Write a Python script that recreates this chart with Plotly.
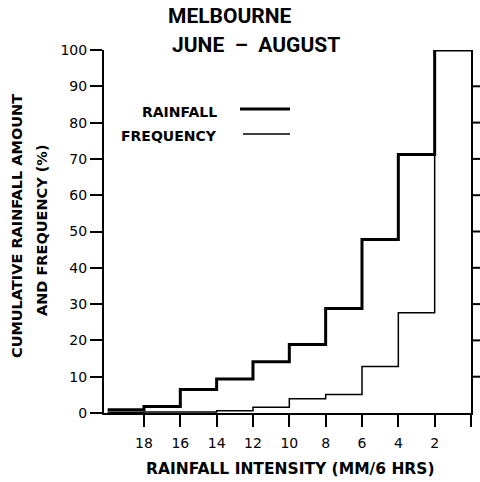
import plotly.graph_objects as go

# Bin edges of rainfall intensity (mm / 6 hrs), from high to low
intensity_edges = [20, 18, 16, 14, 12, 10, 8, 6, 4, 2, 0]
# Cumulative rainfall amount (%) for each bin (20-18, 18-16, ..., 2-0)
rainfall_pct = [0.9, 1.8, 6.5, 9.4, 14.1, 18.9, 28.8, 47.8, 71.2, 100]
# Cumulative frequency (%) for each bin
frequency_pct = [0.2, 0.3, 0.3, 0.6, 1.6, 3.9, 5.1, 12.8, 27.6, 100]

x_tick_vals = [18, 16, 14, 12, 10, 8, 6, 4, 2, 0]
x_tick_text = ["18", "16", "14", "12", "10", "8", "6", "4", "2", ""]
y_tick_vals = [0, 10, 20, 30, 40, 50, 60, 70, 80, 90, 100]

FONT = "DejaVu Sans"

fig = go.Figure()
fig.add_trace(go.Scatter(
    x=intensity_edges, y=frequency_pct + [frequency_pct[-1]],
    mode="lines", line=dict(color="black", width=1.5, shape="hv"),
    name="FREQUENCY", showlegend=False, hoverinfo="skip"))
fig.add_trace(go.Scatter(
    x=intensity_edges, y=rainfall_pct + [rainfall_pct[-1]],
    mode="lines", line=dict(color="black", width=3, shape="hv"),
    name="RAINFALL", showlegend=False, hoverinfo="skip"))

W, H = 480, 482
# plot area in page pixels: left 104, right 471, top 50, bottom 413
L, R, T, B = 104, W - 471, 50, H - 413
pw, ph = W - L - R, H - T - B

def px(x):
    return (x - L) / pw

def py(y):
    return (H - B - y) / ph

annotations = [
    dict(text="<b>MELBOURNE</b>", x=px(230), y=py(16), font=dict(size=21, family="Roboto")),
    dict(text="<b>JUNE  \u2013  AUGUST</b>", x=px(256), y=py(45), font=dict(size=21, family="Roboto")),
    dict(text="<b>RAINFALL</b>", x=px(219), y=py(112), xanchor="right", font=dict(size=14, family=FONT)),
    dict(text="<b>FREQUENCY</b>", x=px(219), y=py(136), xanchor="right", font=dict(size=14, family=FONT)),
    dict(text="<b>CUMULATIVE RAINFALL AMOUNT</b>", x=px(17), y=py(226), textangle=-90, font=dict(size=14.5, family=FONT)),
    dict(text="<b>AND FREQUENCY (%)</b>", x=px(42), y=py(230), textangle=-90, font=dict(size=14.5, family=FONT)),
    dict(text="<b>RAINFALL INTENSITY (MM/6 HRS)</b>", x=px(290), y=py(469), font=dict(size=15.5, family=FONT)),
]
for a in annotations:
    a.setdefault("xanchor", "center")
    a.update(xref="paper", yref="paper", yanchor="middle", showarrow=False)
    a["font"]["color"] = "black"

shapes = [
    dict(type="line", xref="paper", yref="paper", x0=px(240), x1=px(290), y0=py(109), y1=py(109),
         line=dict(color="black", width=3)),
    dict(type="line", xref="paper", yref="paper", x0=px(243), x1=px(290), y0=py(134), y1=py(134),
         line=dict(color="black", width=1.5)),
]
# right-side axis ticks, positioned through the y scale
for v in y_tick_vals[1:-1]:
    shapes.append(dict(type="line", xref="paper", yref="y", x0=1, x1=1 + 9 / pw, y0=v, y1=v,
                       line=dict(color="black", width=2)))

fig.update_layout(
    width=W, height=H,
    margin=dict(l=L, r=R, t=T, b=B, pad=0, autoexpand=False),
    paper_bgcolor="white", plot_bgcolor="white",
    annotations=annotations, shapes=shapes,
    xaxis=dict(range=[20.2, 0], tickvals=x_tick_vals, ticktext=x_tick_text, automargin=False,
               ticks="outside", ticklen=12, tickwidth=2, tickcolor="black",
               showline=True, linewidth=2, linecolor="black", showgrid=False, zeroline=False,
               tickfont=dict(size=14, family=FONT, color="black"), ticklabelstandoff=4),
    yaxis=dict(range=[0, 100], tickvals=y_tick_vals, automargin=False,
               ticks="outside", ticklen=12, tickwidth=2, tickcolor="black",
               showline=True, linewidth=2, linecolor="black", mirror=True,
               showgrid=False, zeroline=False,
               tickfont=dict(size=14, family=FONT, color="black")),
)

fig.write_html("out.html", config={"displayModeBar": False},
               post_script="document.body.style.margin='0';document.body.style.overflow='hidden';")
